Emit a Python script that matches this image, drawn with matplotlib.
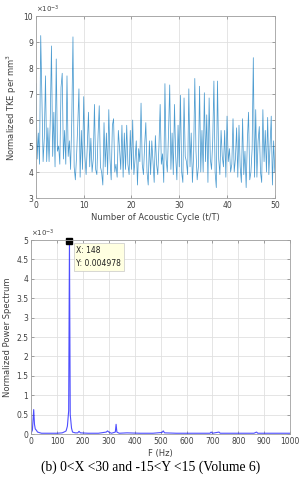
import numpy as np
import matplotlib.pyplot as plt

# TKE per acoustic cycle, 4 samples per cycle (x1e-3)
tke = [
    7.4, 4.5, 5.5, 4.3,
    9.25, 6.9, 4.4, 5.3,
    7.7, 4.4, 5.7, 4.4,
    6.0, 8.85, 4.6, 6.3,
    4.2, 8.35, 4.8, 5.0,
    4.3, 7.25, 7.8, 4.5,
    5.6, 4.3, 7.7, 4.6,
    5.2, 4.1, 6.0, 9.2,
    4.2, 3.7, 4.6, 5.8,
    7.2, 3.8, 5.6, 4.1,
    6.9, 4.6, 3.9, 5.0,
    6.3, 4.2, 5.3, 4.0,
    4.5, 6.6, 4.1, 3.9,
    5.4, 6.55, 4.2, 4.0,
    3.5, 5.9, 4.2, 5.5,
    3.9, 6.4, 4.5, 3.7,
    5.8, 6.05, 4.0, 4.3,
    3.8, 5.6, 4.9, 4.1,
    5.8, 3.8, 5.5, 4.1,
    5.8, 4.3, 3.9, 5.6,
    4.1, 6.0, 3.9, 4.5,
    5.2, 3.5, 4.9, 4.4,
    6.65, 4.3, 3.9, 5.0,
    5.9, 4.0, 3.5, 5.2,
    3.9, 5.2, 4.4, 3.6,
    5.4, 4.3, 3.9, 5.0,
    6.6, 4.3, 4.7, 3.6,
    7.4, 4.5, 4.0, 5.5,
    7.35, 4.1, 5.5, 3.9,
    6.6, 4.6, 3.7, 5.8,
    4.2, 6.95, 4.0, 3.6,
    6.85, 4.6, 4.4, 3.9,
    7.2, 4.2, 5.5, 3.6,
    4.6, 7.6, 4.8, 3.7,
    4.2, 7.3, 4.0, 5.6,
    4.0, 7.05, 4.4, 6.2,
    3.6, 6.85, 4.5, 4.1,
    5.2, 7.5, 4.0, 3.4,
    7.5, 4.5, 3.9, 5.6,
    4.6, 4.2, 5.6, 3.8,
    6.15, 4.4, 4.9, 4.0,
    4.3, 6.05, 4.0, 4.5,
    5.7, 3.8, 5.8, 4.2,
    3.6, 6.05, 3.9, 4.8,
    3.4, 5.2, 6.3, 3.7,
    4.0, 4.9, 8.4, 3.8,
    6.4, 3.8, 5.2, 5.75,
    4.0, 3.6, 6.4, 4.4,
    5.6, 4.0, 6.1, 3.9,
    5.0, 6.15, 3.5, 5.2,
    4.0,
]
cycles = np.arange(len(tke)) * 0.25

# power spectrum (x1e-3)
freq = [0, 5, 10, 13, 16, 20, 25, 30, 40, 60, 80, 100, 120, 130, 135, 140, 145,
        148, 151, 156, 160, 170, 180, 185, 190, 220, 260, 290, 295, 300, 310,
        325, 328, 331, 340, 370, 420, 470, 505, 510, 515, 560, 620, 690, 695,
        700, 725, 730, 760, 800, 860, 870, 875, 920, 960, 1000]
psd = [0.02, 0.1, 0.63, 0.25, 0.13, 0.1, 0.05, 0.04, 0.02, 0.02, 0.02, 0.02, 0.03,
       0.06, 0.08, 0.2, 0.6, 4.978, 0.5, 0.15, 0.05, 0.03, 0.03, 0.07, 0.03, 0.02,
       0.02, 0.05, 0.08, 0.05, 0.02, 0.05, 0.25, 0.05, 0.02, 0.03, 0.02, 0.02,
       0.04, 0.08, 0.03, 0.02, 0.02, 0.02, 0.05, 0.02, 0.05, 0.02, 0.02, 0.02,
       0.02, 0.05, 0.02, 0.02, 0.02, 0.02]

txt = '#404040'
plt.rcParams['font.family'] = ['DejaVu Sans']
fig = plt.figure(figsize=(3.02, 4.8), dpi=100)

def style(ax):
    ax.grid(True, color='#e0e0e0', linewidth=0.6)
    ax.set_axisbelow(True)
    for s in ax.spines.values():
        s.set_color('#a0a0a0')
        s.set_linewidth(0.6)
    ax.tick_params(direction='in', length=2, width=0.5, color='#808080',
                   labelsize=5.5, labelcolor=txt, pad=2, top=True, right=True)

ax1 = fig.add_axes([0.119, 0.5875, 0.791, 0.379])
ax1.plot(cycles, tke, color='#0072BD', linewidth=0.55, alpha=0.7)
ax1.set_xlim(0, 50)
ax1.set_ylim(3, 10)
ax1.set_xticks(range(0, 51, 10))
ax1.set_yticks(range(3, 11))
style(ax1)
ax1.set_xlabel('Number of Acoustic Cycle (t/T)', fontsize=6, color=txt, labelpad=2)
ax1.set_ylabel('Normalized TKE per mm$^3$', fontsize=6, color=txt, labelpad=3)
ax1.text(0.0, 1.005, r'$\times10^{-3}$', transform=ax1.transAxes, fontsize=5,
         color=txt, va='bottom', ha='left')

ax2 = fig.add_axes([0.103, 0.0958, 0.858, 0.404])
ax2.plot(freq, psd, color='#3030ff', linewidth=0.8, alpha=0.85)
ax2.set_xlim(0, 1000)
ax2.set_ylim(0, 5)
ax2.set_xticks(range(0, 1001, 100))
ax2.set_yticks(np.arange(0, 5.01, 0.5))
ax2.set_yticklabels(['0', '0.5', '1', '1.5', '2', '2.5', '3', '3.5', '4', '4.5', '5'])
style(ax2)
ax2.set_xlabel('F (Hz)', fontsize=6, color=txt, labelpad=2)
ax2.set_ylabel('Normalized Power Spectrum', fontsize=6, color=txt, labelpad=3)
ax2.text(0.0, 1.005, r'$\times10^{-3}$', transform=ax2.transAxes, fontsize=5,
         color=txt, va='bottom', ha='left')

# datatip
ax2.plot([148], [4.978], marker='s', color='black', markersize=4, clip_on=False)
ax2.text(175, 4.57, 'X: 148\nY: 0.004978', fontsize=5.5, color='#202020',
         va='center', ha='left', linespacing=1.6,
         bbox=dict(boxstyle='square,pad=0.35', facecolor='#ffffe1',
                   edgecolor='#c8c8c8', linewidth=0.5))

fig.text(0.5, 0.027, '(b) 0<X <30 and -15<Y <15 (Volume 6)',
         fontsize=9.8, family='Liberation Serif', ha='center', va='center')

fig.savefig('out.png', dpi=100, facecolor='white')
